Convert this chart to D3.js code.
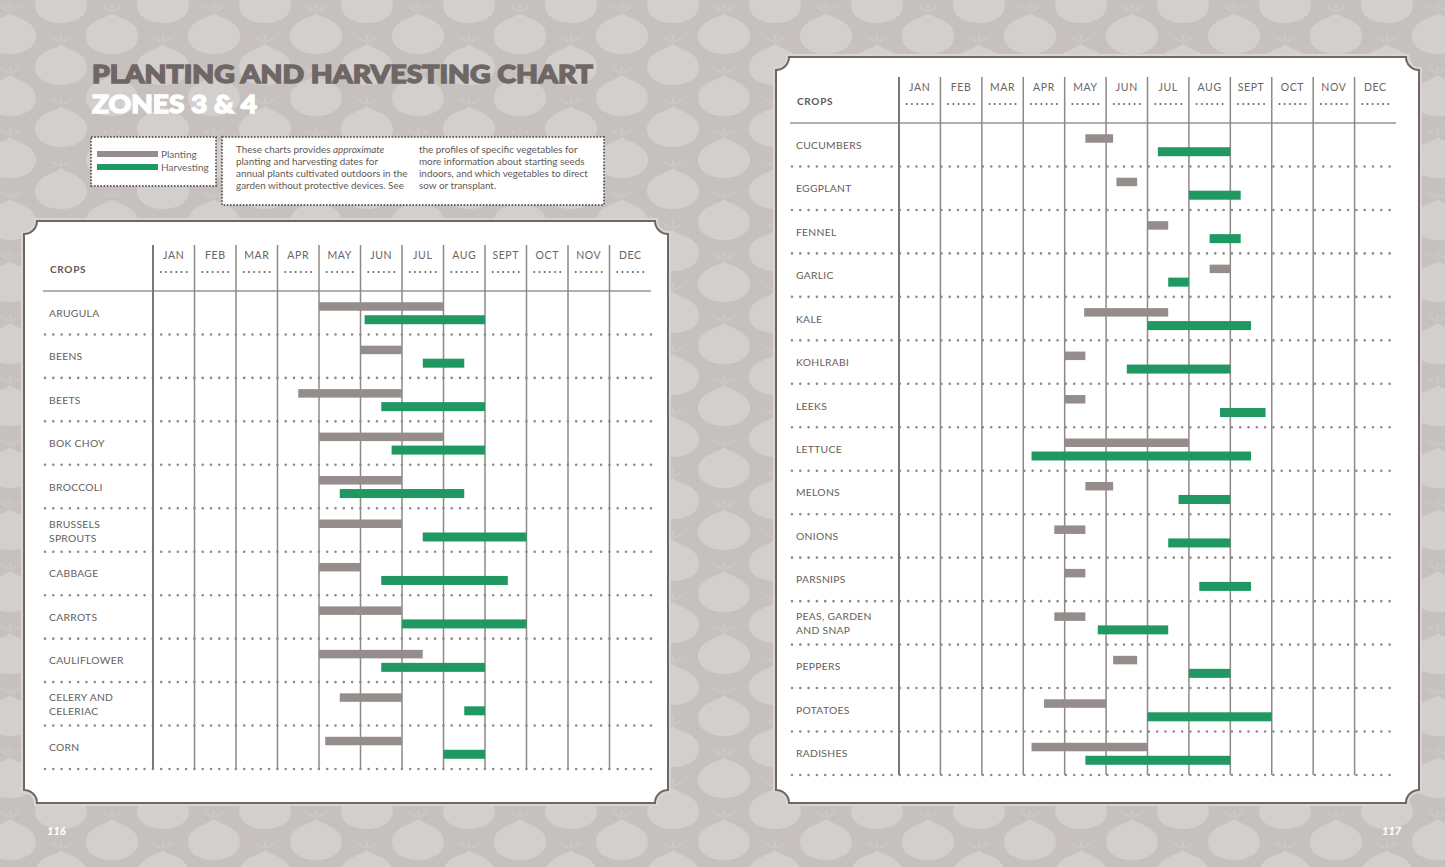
<!DOCTYPE html>
<html>
<head>
<meta charset="utf-8">
<script src="https://cdn.jsdelivr.net/npm/d3@7"></script>
<style>
  html, body { margin: 0; padding: 0; background: #c5c0be; }
  svg { display: block; }
</style>
</head>
<body>
<div id="chart-area"></div>
<script>

// months / tick labels
var months = ["JAN", "FEB", "MAR", "APR", "MAY", "JUN", "JUL", "AUG", "SEPT", "OCT", "NOV", "DEC"];

// page 116 crops (values are months from Jan 1, 0 - 12)
var cropsLeft = ["ARUGULA", "BEENS", "BEETS", "BOK CHOY", "BROCCOLI", "BRUSSELS\nSPROUTS",
    "CABBAGE", "CARROTS", "CAULIFLOWER", "CELERY AND\nCELERIAC", "CORN"];
var plantLeft = [[4, 7], [5, 6], [3.5, 6], [4, 7], [4, 6], [4, 6],
    [4, 5], [4, 6], [4, 6.5], [4.5, 6], [4.15, 6]];
var harvestLeft = [[5.1, 8], [6.5, 7.5], [5.5, 8], [5.75, 8], [4.5, 7.5], [6.5, 9],
    [5.5, 8.55], [6, 9], [5.5, 8], [7.5, 8], [7, 8]];

// page 117 crops
var cropsRight = ["CUCUMBERS", "EGGPLANT", "FENNEL", "GARLIC", "KALE", "KOHLRABI", "LEEKS",
    "LETTUCE", "MELONS", "ONIONS", "PARSNIPS", "PEAS, GARDEN\nAND SNAP", "PEPPERS", "POTATOES", "RADISHES"];
var plantRight = [[4.5, 5.17], [5.25, 5.75], [6, 6.5], [7.5, 8], [4.47, 6.5], [4, 4.5], [4, 4.5],
    [4, 7], [4.5, 5.17], [3.75, 4.5], [4, 4.5], [3.75, 4.5], [5.17, 5.75], [3.5, 5], [3.2, 6]];
var harvestRight = [[6.25, 8], [7, 8.25], [7.5, 8.25], [6.5, 7], [6, 8.5], [5.5, 8], [7.75, 8.85],
    [3.2, 8.5], [6.75, 8], [6.5, 8], [7.25, 8.5], [4.8, 6.5], [7, 8], [6, 9], [4.5, 8]];

var legendItems = ["Planting", "Harvesting"];
var introCol1 = ["These charts provides |approximate|", "planting and harvesting dates for",
    "annual plants cultivated outdoors in the", "garden without protective devices. See"];
var introCol2 = ["the profiles of specific vegetables for", "more information about starting seeds",
    "indoors, and which vegetables to direct", "sow or transplant."];

var W = 1445, H = 867;
var GREY = "#958d8b", GREEN = "#1f9961";
var FONT = "Lato, 'Open Sans', sans-serif";

var svg = d3.select("#chart-area")
    .append("svg")
        .attr("width", W)
        .attr("height", H);

// Background pattern (onions)
var defs = svg.append("defs");
var pat = defs.append("pattern")
    .attr("id", "onions")
    .attr("patternUnits", "userSpaceOnUse")
    .attr("width", 102)
    .attr("height", 62)
    .attr("patternTransform", "translate(571,4)");

pat.append("rect").attr("width", 102).attr("height", 62).attr("fill", "#c6c1bf");

var onionPath = "M0,-22 C4,-17 26,-15 26,1 C26,13 13,19 0,19 C-13,19 -26,13 -26,1 C-26,-15 -4,-17 0,-22 Z";
var leafPath = "M0,-23 C-3,-27 -8,-29 -12,-29 C-8,-26 -4,-24 0,-23 Z M0,-23 C3,-27 8,-29 12,-29 C8,-26 4,-24 0,-23 Z M0,-23 C-2,-27 -1,-31 0,-33 C1,-31 2,-27 0,-23 Z";
[[51, 31], [0, 0], [102, 0], [0, 62], [102, 62]].forEach(function(c){
    pat.append("path")
        .attr("d", onionPath)
        .attr("transform", "translate(" + c[0] + "," + c[1] + ")")
        .attr("fill", "#d3cfcd");
    pat.append("path")
        .attr("d", leafPath)
        .attr("transform", "translate(" + c[0] + "," + c[1] + ")")
        .attr("fill", "#ccc8c6");
});

svg.append("rect")
    .attr("width", W)
    .attr("height", H)
    .attr("fill", "url(#onions)");

// Title
svg.append("text")
    .attr("x", 92)
    .attr("y", 82.5)
    .attr("font-family", FONT)
    .attr("font-weight", 900)
    .attr("font-size", "25.5px")
    .attr("fill", "#6f6765")
    .attr("stroke", "#6f6765")
    .attr("stroke-width", 1.4)
    .attr("textLength", 501)
    .attr("lengthAdjust", "spacingAndGlyphs")
    .text("PLANTING AND HARVESTING CHART");

svg.append("text")
    .attr("x", 92)
    .attr("y", 113)
    .attr("font-family", FONT)
    .attr("font-weight", 900)
    .attr("font-size", "25.5px")
    .attr("fill", "#ffffff")
    .attr("stroke", "#ffffff")
    .attr("stroke-width", 1.4)
    .attr("textLength", 165)
    .attr("lengthAdjust", "spacingAndGlyphs")
    .text("ZONES 3 & 4");

// Legend box
function dottedBox(x, y, w, h) {
    svg.append("rect")
        .attr("x", x).attr("y", y)
        .attr("width", w).attr("height", h)
        .attr("fill", "#ffffff")
        .attr("stroke", "#6a6462")
        .attr("stroke-width", 2)
        .attr("stroke-dasharray", "1.6 1.6");
}

dottedBox(91, 137, 125, 49);
var legend = svg.append("g").attr("transform", "translate(97,151)");
legend.selectAll("rect")
    .data(legendItems)
    .enter()
    .append("rect")
        .attr("x", 0)
        .attr("y", function(d, i){ return i * 13; })
        .attr("width", 61)
        .attr("height", 6)
        .attr("fill", function(d, i){ return i == 0 ? GREY : GREEN; });
legend.selectAll("text")
    .data(legendItems)
    .enter()
    .append("text")
        .attr("x", 64)
        .attr("y", function(d, i){ return 7 + i * 13; })
        .attr("font-family", FONT)
        .attr("font-size", "10px")
        .attr("fill", "#6a6462")
        .text(function(d){ return d; });

// Intro text box
dottedBox(222, 137, 382, 68);
function introText(lines, x) {
    var t = svg.append("g");
    lines.forEach(function(line, i){
        var txt = t.append("text")
            .attr("x", x)
            .attr("y", 153 + i * 12)
            .attr("font-family", FONT)
            .attr("font-size", "9.9px")
            .attr("fill", "#5f5856");
        line.split("|").forEach(function(part, j){
            txt.append("tspan")
                .attr("font-style", j == 1 ? "italic" : "normal")
                .text(part);
        });
    });
}
introText(introCol1, 236);
introText(introCol2, 419);

// Panel with concave corners
function panelPath(x0, y0, x1, y1, r) {
    return "M" + (x0 + r) + "," + y0 +
        " L" + (x1 - r) + "," + y0 +
        " A" + r + "," + r + " 0 0 0 " + x1 + "," + (y0 + r) +
        " L" + x1 + "," + (y1 - r) +
        " A" + r + "," + r + " 0 0 0 " + (x1 - r) + "," + y1 +
        " L" + (x0 + r) + "," + y1 +
        " A" + r + "," + r + " 0 0 0 " + x0 + "," + (y1 - r) +
        " L" + x0 + "," + (y0 + r) +
        " A" + r + "," + r + " 0 0 0 " + (x0 + r) + "," + y0 + " Z";
}

function drawPanel(x0, y0, x1, y1) {
    svg.append("path")
        .attr("d", panelPath(x0, y0, x1, y1, 13))
        .attr("fill", "none")
        .attr("stroke", "#d9d5d3")
        .attr("stroke-width", 6);
    svg.append("path")
        .attr("d", panelPath(x0, y0, x1, y1, 13))
        .attr("fill", "#ffffff")
        .attr("stroke", "#6e6765")
        .attr("stroke-width", 2);
}

drawPanel(24, 221, 668, 803);
drawPanel(776, 57, 1419, 803);

// One chart
function drawChart(cfg, crops, plant, harvest) {
    var g = svg.append("g");

    var x = d3.scaleLinear()
        .domain([0, 12])
        .range([cfg.x0, cfg.x1]);

    var xm = d3.scaleBand()
        .domain(months)
        .range([cfg.x0, cfg.x1]);

    var y = d3.scaleBand()
        .domain(crops)
        .range([cfg.top + 46, cfg.bottom]);

    // header line
    g.append("line")
        .attr("x1", cfg.labelX - 6).attr("x2", cfg.x1)
        .attr("y1", y.range()[0]).attr("y2", y.range()[0])
        .attr("stroke", "#9a9492")
        .attr("stroke-width", 1.5);

    // dotted row separators
    g.selectAll(".sep")
        .data(crops)
        .enter()
        .append("line")
            .attr("class", "sep")
            .attr("x1", cfg.labelX - 4).attr("x2", cfg.x1)
            .attr("y1", function(d){ return y(d) + y.bandwidth(); })
            .attr("y2", function(d){ return y(d) + y.bandwidth(); })
            .attr("stroke", "#8f8987")
            .attr("stroke-width", 2.6)
            .attr("stroke-linecap", "round")
            .attr("stroke-dasharray", "0 8.3");

    // vertical month lines
    g.selectAll(".vline")
        .data(d3.range(0, 12))
        .enter()
        .append("line")
            .attr("class", "vline")
            .attr("x1", function(d){ return x(d); })
            .attr("x2", function(d){ return x(d); })
            .attr("y1", cfg.top)
            .attr("y2", cfg.bottom)
            .attr("stroke", function(d){ return d == 0 ? "#7d7674" : "#8e8886"; })
            .attr("stroke-width", function(d){ return d == 0 ? 2 : 1.5; });

    // month labels
    g.selectAll(".month")
        .data(months)
        .enter()
        .append("text")
            .attr("class", "month")
            .attr("x", function(d){ return xm(d) + xm.bandwidth() / 2; })
            .attr("y", cfg.top + 14)
            .attr("text-anchor", "middle")
            .attr("font-family", FONT)
            .attr("font-size", "10.5px")
            .attr("letter-spacing", "0.6px")
            .attr("fill", "#6b6462")
            .text(function(d){ return d; });

    g.selectAll(".mdots")
        .data(months)
        .enter()
        .append("line")
            .attr("class", "mdots")
            .attr("x1", function(d){ return xm(d) + xm.bandwidth() / 2 - 13; })
            .attr("x2", function(d){ return xm(d) + xm.bandwidth() / 2 + 13.1; })
            .attr("y1", cfg.top + 27)
            .attr("y2", cfg.top + 27)
            .attr("stroke", "#6b6462")
            .attr("stroke-width", 2)
            .attr("stroke-linecap", "round")
            .attr("stroke-dasharray", "0 5.2");

    g.append("text")
        .attr("x", cfg.labelX + 1)
        .attr("y", cfg.top + 28)
        .attr("font-family", FONT)
        .attr("font-weight", 700)
        .attr("font-size", "10px")
        .attr("letter-spacing", "0.7px")
        .attr("fill", "#5f5856")
        .text("CROPS");

    // crop labels
    var labels = g.selectAll(".crop")
        .data(crops)
        .enter()
        .append("text")
            .attr("class", "crop")
            .attr("font-family", FONT)
            .attr("font-size", "10.3px")
            .attr("letter-spacing", "0.3px")
            .attr("fill", "#655e5c");

    labels.each(function(d){
        var lines = d.split("\n");
        var c = y(d) + y.bandwidth() / 2;
        var el = d3.select(this);
        lines.forEach(function(line, i){
            el.append("tspan")
                .attr("x", cfg.labelX)
                .attr("y", lines.length == 1 ? c + 4 : c - 2.5 + i * 14)
                .text(line);
        });
    });

    // planting bars
    g.selectAll(".plant")
        .data(plant)
        .enter()
        .append("rect")
            .attr("class", "plant")
            .attr("x", function(d){ return x(d[0]); })
            .attr("width", function(d){ return x(d[1]) - x(d[0]); })
            .attr("y", function(d, i){ return y(crops[i]) + y.bandwidth() / 2 - 10.5; })
            .attr("height", 8.5)
            .attr("fill", GREY);

    // harvesting bars
    g.selectAll(".harvest")
        .data(harvest)
        .enter()
        .append("rect")
            .attr("class", "harvest")
            .attr("x", function(d){ return x(d[0]); })
            .attr("width", function(d){ return x(d[1]) - x(d[0]); })
            .attr("y", function(d, i){ return y(crops[i]) + y.bandwidth() / 2 + 2.5; })
            .attr("height", 9)
            .attr("fill", GREEN);
}

drawChart({ x0: 153, x1: 651, top: 245, bottom: 769, labelX: 49 }, cropsLeft, plantLeft, harvestLeft);
drawChart({ x0: 899, x1: 1396, top: 77, bottom: 775, labelX: 796 }, cropsRight, plantRight, harvestRight);

// page numbers
svg.append("text")
    .attr("x", 47).attr("y", 835)
    .attr("font-family", FONT)
    .attr("font-weight", 900)
    .attr("font-style", "italic")
    .attr("font-size", "11px")
    .attr("fill", "#ffffff")
    .text("116");

svg.append("text")
    .attr("x", 1382).attr("y", 835)
    .attr("font-family", FONT)
    .attr("font-weight", 900)
    .attr("font-style", "italic")
    .attr("font-size", "11px")
    .attr("fill", "#ffffff")
    .text("117");

</script>
</body>
</html>
